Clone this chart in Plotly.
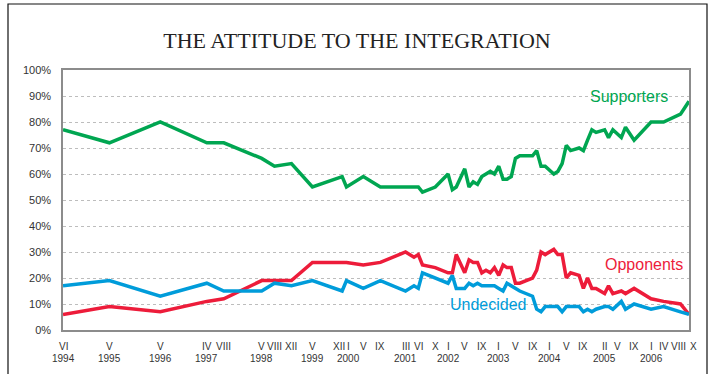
import plotly.graph_objects as go

# Survey dates (year-month)
surveys = [
    "1994-06", "1995-05", "1996-05", "1997-04", "1997-08", "1998-05", "1998-08",
    "1998-12", "1999-05", "1999-12", "2000-01", "2000-05", "2000-09", "2001-03",
    "2001-05", "2001-06", "2001-07", "2001-10", "2002-01", "2002-02", "2002-03",
    "2002-05", "2002-06", "2002-07", "2002-08", "2002-09", "2002-10", "2002-11",
    "2002-12", "2003-01", "2003-02", "2003-03", "2003-04", "2003-05", "2003-06",
    "2003-09", "2003-10", "2003-11", "2003-12", "2004-02", "2004-03", "2004-04",
    "2004-05", "2004-06", "2004-08", "2004-09", "2004-10", "2004-11", "2004-12",
    "2005-02", "2005-03", "2005-04", "2005-06", "2005-07", "2005-09", "2006-01",
    "2006-04", "2006-08", "2006-10",
]

supporters = [
    77, 72, 80, 72, 72, 66, 63,
    64, 55, 59, 55, 59, 55, 55,
    55, 55, 53, 55, 60, 54, 55,
    62, 55, 57, 56, 59, 60, 61,
    60, 63, 58, 58, 59, 66, 67,
    67, 69, 63, 63, 60, 61, 64,
    71, 69, 70, 69, 73, 77, 76,
    77, 74, 77, 74, 78, 73, 80,
    80, 83, 88,
]

opponents = [
    6, 9, 7, 11, 12, 19, 19,
    19, 26, 26, 26, 25, 26, 30,
    28, 29, 25, 24, 22, 22, 29,
    22, 27, 26, 26, 22, 23, 22,
    24, 21, 25, 24, 24, 18, 18,
    20, 23, 30, 29, 31, 29, 29,
    20, 22, 21, 16, 20, 16, 16,
    14, 17, 14, 15, 14, 16, 12,
    11, 10, 6,
]

undecided = [
    17, 19, 13, 18, 15, 15, 18,
    17, 19, 15, 19, 16, 19, 15,
    17, 16, 22, 20, 18, 21, 16,
    16, 18, 17, 18, 17, 17, 17,
    17, 16, 15, 18, 17, 16, 15,
    13, 8, 7, 9, 9, 9, 7,
    9, 9, 9, 7, 8, 7, 8,
    9, 9, 8, 11, 8, 10, 8,
    9, 7, 6,
]

# Axis labels: month in Roman numerals, year under the first survey of each year
tick_dates = [
    "1994-06", "1995-05", "1996-05", "1997-04", "1997-08", "1998-05", "1998-08",
    "1998-12", "1999-05", "1999-12", "2000-01", "2000-05", "2000-09", "2001-03",
    "2001-06", "2001-10", "2002-01", "2002-05", "2002-09", "2003-01", "2003-05",
    "2003-09", "2004-01", "2004-05", "2004-09", "2005-02", "2005-05", "2005-09",
    "2006-01", "2006-04", "2006-08", "2006-10",
]
tick_months = [
    "VI", "V", "V", "IV", "VIII", "V", "VIII",
    "XII", "V", "XII", "I", "V", "IX", "III",
    "VI", "X", "I", "V", "IX", "I", "V",
    "IX", "I", "V", "IX", "II", "V", "IX",
    "I", "IV", "VIII", "X",
]
tick_years = [
    "1994", "1995", "1996", "1997", "", "1998", "",
    "", "1999", "", "2000", "", "", "2001",
    "", "", "2002", "", "", "2003", "",
    "", "2004", "", "", "2005", "", "",
    "2006", "", "", "",
]

y_vals = list(range(0, 101, 10))
y_text = [f"{v}%" for v in y_vals]

GREEN = "rgb(0,166,81)"
RED = "rgb(237,28,58)"
BLUE = "rgb(0,156,218)"

fig = go.Figure()
for name, vals, col in [
    ("Supporters", supporters, GREEN),
    ("Opponents", opponents, RED),
    ("Undecided", undecided, BLUE),
]:
    fig.add_trace(go.Scatter(
        x=surveys, y=vals, mode="lines", name=name,
        line=dict(color=col, width=3.5),
        hovertemplate="%{x|%m.%Y}: %{y}%<extra>" + name + "</extra>",
    ))

fig.update_layout(
    width=714, height=374,
    margin=dict(l=63, r=25, t=70, b=44, autoexpand=False),
    paper_bgcolor="white", plot_bgcolor="white",
    showlegend=False,
    font=dict(family="Liberation Sans, Arial, sans-serif", color="#333333"),
    title=dict(
        text="THE ATTITUDE TO THE INTEGRATION",
        x=0.5, xref="container", xanchor="center",
        y=1 - 40 / 374, yref="container", yanchor="middle",
        font=dict(family="Liberation Serif, Times New Roman, serif", size=22, color="#222222"),
    ),
    xaxis=dict(
        type="date",
        range=["1994-06-01", "2006-10-01"],
        tickmode="array", tickvals=tick_dates,
        showticklabels=False, automargin=False,
        ticks="",
        showgrid=False, zeroline=False,
        showline=True, linecolor="#8c8c8c", linewidth=2, mirror=True,
    ),
    yaxis=dict(
        range=[0, 100],
        tickmode="array", tickvals=y_vals, ticktext=y_text,
        tickfont=dict(size=11, color="#333333"),
        automargin=False,
        ticks="", ticklabelstandoff=8,
        showgrid=True, gridcolor="#bdbdbd", griddash="dot", gridwidth=1,
        zeroline=False,
        showline=True, linecolor="#8c8c8c", linewidth=1.5, mirror=True,
    ),
)

# Month / year labels under the axis; crowded neighbours are nudged apart
nudge = {9: -3, 10: 2, 30: -2, 31: 4}
label_font = dict(size=10, color="#333333", family="Liberation Sans, Arial, sans-serif")
for i, (d, m, yr) in enumerate(zip(tick_dates, tick_months, tick_years)):
    dx = nudge.get(i, 0)
    fig.add_annotation(
        text=m, showarrow=False, xref="x", yref="paper",
        x=d, y=(330 - 346) / 260, xshift=dx,
        xanchor="center", yanchor="middle", font=label_font,
    )
    if yr:
        fig.add_annotation(
            text=yr, showarrow=False, xref="x", yref="paper",
            x=d, y=(330 - 358) / 260, xshift=dx,
            xanchor="center", yanchor="middle", font=label_font,
        )

# Series names placed next to their lines
for text, col, px, py in [
    ("Supporters", GREEN, 629, 97),
    ("Opponents", RED, 644, 264),
    ("Undecided", BLUE, 488, 304),
]:
    fig.add_annotation(
        text=text, showarrow=False,
        xref="paper", yref="paper",
        x=(px - 63) / 626, y=(330 - py) / 260,
        xanchor="center", yanchor="middle",
        font=dict(size=16, color=col, family="Liberation Sans, Arial, sans-serif"),
    )

# Outer frame around the whole figure
fig.add_shape(
    type="rect", xref="paper", yref="paper",
    x0=(8 - 63) / 626, x1=(707 - 63) / 626,
    y0=(330 - 380) / 260, y1=(330 - 4) / 260,
    line=dict(color="#111111", width=1.2), fillcolor="rgba(0,0,0,0)",
    layer="below",
)

fig.write_html("out.html")
